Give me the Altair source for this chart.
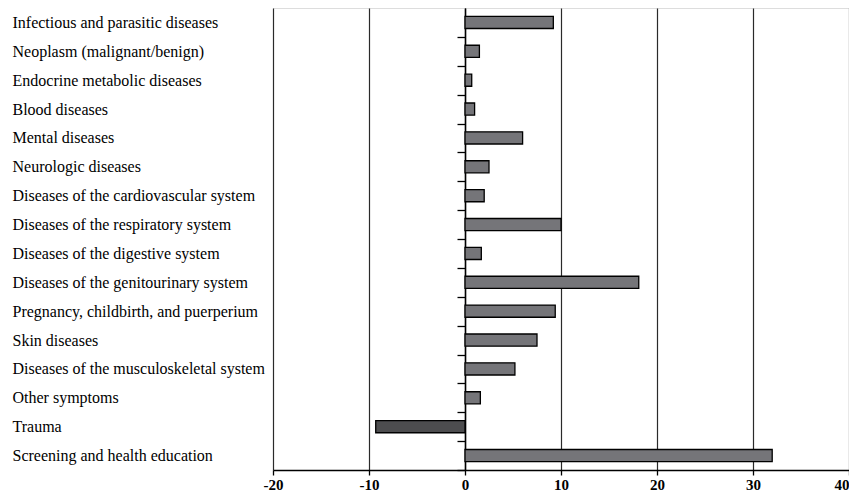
import altair as alt
import pandas as pd

categories = [
    "Infectious and parasitic diseases",
    "Neoplasm (malignant/benign)",
    "Endocrine metabolic diseases",
    "Blood diseases",
    "Mental diseases",
    "Neurologic diseases",
    "Diseases of the cardiovascular system",
    "Diseases of the respiratory system",
    "Diseases of the digestive system",
    "Diseases of the genitourinary system",
    "Pregnancy, childbirth, and puerperium",
    "Skin diseases",
    "Diseases of the musculoskeletal system",
    "Other symptoms",
    "Trauma",
    "Screening and health education",
]
values = [9.2, 1.5, 0.7, 1.0, 6.0, 2.5, 2.0, 10.0, 1.7, 18.1, 9.4, 7.5, 5.2, 1.6, -9.3, 32.0]
x_ticks = [-20, -10, 0, 10, 20, 30, 40]

df = pd.DataFrame({"category": categories, "value": values})

H = 462
W = 576
step = H / len(categories)

chart = (
    alt.Chart(df)
    .mark_bar(stroke="black", strokeWidth=1.3)
    .encode(
        x=alt.X(
            "value:Q",
            scale=alt.Scale(domain=[-20, 40], nice=False, zero=False),
            axis=alt.Axis(
                values=x_ticks,
                title=None,
                grid=True,
                gridColor="#2a2a2a",
                gridWidth=1.2,
                gridOpacity=1,
                domainColor="black",
                domainWidth=1.5,
                tickColor="black",
                tickSize=5,
                tickWidth=1.3,
                labelExpr="datum.value + ''",
                labelAlign={
                    "condition": {"test": "datum.value >= 40", "value": "right"},
                    "value": "center",
                },
                labelFont="Liberation Serif",
                labelFontSize=15,
                labelFontWeight="bold",
                labelColor="black",
                labelPadding=2,
                labelFlush=False,
            ),
        ),
        y=alt.Y(
            "category:N",
            sort=categories,
            scale=alt.Scale(paddingInner=0.58, paddingOuter=0.29),
            axis=alt.Axis(
                title=None,
                offset=-(W / 3),
                domain=True,
                domainColor="black",
                domainWidth=1.5,
                ticks=True,
                tickColor="black",
                tickSize=8,
                tickWidth=1.3,
                tickOffset=step / 2,
                labelOffset=-step / 2,
                labelAlign="left",
                labelBaseline="middle",
                labelPadding=W / 3 + 261 - 8,
                labelLimit=400,
                labelFont="Liberation Serif",
                labelFontSize=16,
                labelColor="black",
            ),
        ),
        color=alt.condition(
            alt.datum.value < 0, alt.value("#4d4d4f"), alt.value("#757579")
        ),
    )
    .properties(
        width=W,
        height=H,
        autosize=alt.AutoSizeParams(type="none"),
        padding={"left": 265, "top": 0, "right": 0, "bottom": 24},
    )
    .configure_view(stroke="black", strokeWidth=1.5)
    .configure(background="white")
)

chart.save("out.html", embed_options={"renderer": "svg", "actions": False})
